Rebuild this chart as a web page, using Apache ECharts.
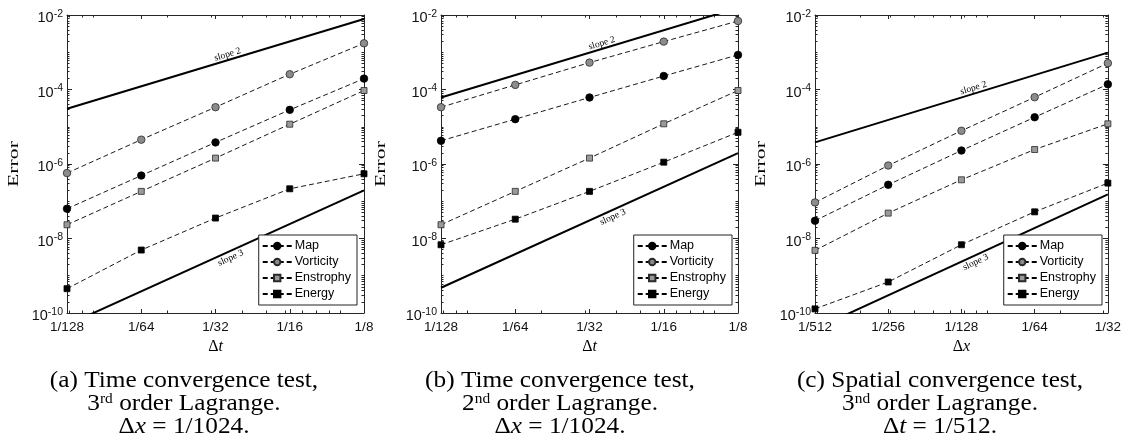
<!DOCTYPE html>
<html><head><meta charset="utf-8">
<script src="https://cdn.jsdelivr.net/npm/echarts@6/dist/echarts.min.js"></script>
<style>html,body{margin:0;padding:0;background:#fff}#c{width:1124px;height:448px}</style>
</head><body><div id="c"></div><script>
// ---------------- data ----------------
const seriesNames = ['Map', 'Vorticity', 'Enstrophy', 'Energy'];

const stepA = [1/128, 1/64, 1/32, 1/16, 1/8];
const mapA = [6.3e-8, 4.9e-7, 3.8e-6, 2.84e-5, 1.96e-4];
const vortA = [5.7e-7, 4.5e-6, 3.35e-5, 2.57e-4, 1.74e-3];
const ensA = [2.34e-8, 1.84e-7, 1.44e-6, 1.17e-5, 9.4e-5];
const energyA = [4.5e-10, 4.9e-9, 3.54e-8, 2.16e-7, 5.46e-7];
const slope2A = [3.05e-5, 7.8e-3];
const slope3A = [4.77e-11, 1.95e-7];

const stepB = [1/128, 1/64, 1/32, 1/16, 1/8];
const mapB = [4.2e-6, 1.6e-5, 6.1e-5, 2.3e-4, 8.5e-4];
const vortB = [3.35e-5, 1.33e-4, 5.27e-4, 1.93e-3, 6.9e-3];
const ensB = [2.34e-8, 1.84e-7, 1.44e-6, 1.2e-5, 9.4e-5];
const energyB = [6.8e-9, 3.3e-8, 1.84e-7, 1.12e-6, 7.1e-6];
const slope2B = [6.1e-5, 1.56e-2];
const slope3B = [4.77e-10, 1.95e-6];

const stepC = [1/512, 1/256, 1/128, 1/64, 1/32];
const mapC = [3.0e-8, 2.77e-7, 2.3e-6, 1.8e-5, 1.38e-4];
const vortC = [9.3e-8, 9.1e-7, 7.8e-6, 6.2e-5, 5.1e-4];
const ensC = [4.8e-9, 4.8e-8, 3.77e-7, 2.45e-6, 1.2e-5];
const energyC = [1.29e-10, 6.8e-10, 6.8e-9, 5.2e-8, 3.07e-7];
const slope2C = [3.8e-6, 9.77e-4];
const slope3C = [3.73e-11, 1.53e-7];

const yRange = [1e-10, 1e-2];
const xAxisNames = ['t', 't', 'x'];
const slopeLabels = ['slope 2', 'slope 3'];
const captionsA = ['(a) Time convergence test,', '3{sup|rd} order Lagrange.', 'Δ{it|x} = 1/1024.'];
const captionsB = ['(b) Time convergence test,', '2{sup|nd} order Lagrange.', 'Δ{it|x} = 1/1024.'];
const captionsC = ['(c) Spatial convergence test,', '3{sup|nd} order Lagrange.', 'Δ{it|t} = 1/512.'];

// ---------------- layout / style ----------------
const panels = [
  {x: stepA, vals: [mapA, vortA, ensA, energyA], s2: slope2A, s3: slope3A, cap: captionsA,
   grid: {left: 67, top: 15, width: 297, height: 298}, errX: 14, capX: 184, legRight: 767,
   s2x: 0.0355, s3x: 0.0351},
  {x: stepB, vals: [mapB, vortB, ensB, energyB], s2: slope2B, s3: slope3B, cap: captionsB,
   grid: {left: 441, top: 15, width: 297, height: 298}, errX: 381, capX: 560, legRight: 392,
   s2x: 0.0356, s3x: 0.0379},
  {x: stepC, vals: [mapC, vortC, ensC, energyC], s2: slope2C, s3: slope3C, cap: captionsC,
   grid: {left: 815, top: 15, width: 293, height: 298}, errX: 761, capX: 940, legRight: 22,
   s2x: 0.00889, s3x: 0.00872}
];

const AX = '#262626';
const SANS = 'Liberation Sans';
const SERIF = 'Liberation Serif';

const markerStyles = [
  {symbol: 'circle', symbolSize: 7.5, itemStyle: {color: '#000', borderColor: '#000', borderWidth: 0.8}},
  {symbol: 'circle', symbolSize: 7.5, itemStyle: {color: '#8c8c8c', borderColor: '#2a2a2a', borderWidth: 0.8}},
  {symbol: 'rect', symbolSize: 6, itemStyle: {color: '#9a9a9a', borderColor: '#2a2a2a', borderWidth: 0.8}},
  {symbol: 'rect', symbolSize: 6, itemStyle: {color: '#000', borderColor: '#000', borderWidth: 0.8}}
];

function decadeTicks(lo, hi, ks) {
  const out = [];
  for (let e = -12; e <= 1; e++) {
    for (const k of ks) {
      const v = k * Math.pow(10, e);
      if (v >= lo * 0.9999 && v <= hi * 1.0001) out.push(v);
    }
  }
  return out;
}

const xAxes = [], yAxes = [], series = [], legends = [];

panels.forEach((p, i) => {
  const xmin = p.x[0], xmax = p.x[p.x.length - 1];
  const xBase = {type: 'log', logBase: 2, gridIndex: i, min: xmin, max: xmax, interval: 1,
    splitLine: {show: false}};
  xAxes.push(Object.assign({}, xBase, {
    position: 'bottom',
    axisLine: {show: true, lineStyle: {color: AX, width: 1}},
    axisTick: {show: true, inside: true, length: 4, lineStyle: {color: AX}},
    axisLabel: {show: true, margin: 7, color: '#111', fontFamily: SANS, fontSize: 13.5,
      formatter: v => '1/' + Math.round(1 / v)},
    name: '{d|Δ}{i|' + xAxisNames[i] + '}', nameLocation: 'middle', nameGap: 20,
    nameTextStyle: {rich: {
      d: {fontFamily: SERIF, fontSize: 16, color: '#000'},
      i: {fontFamily: SERIF, fontSize: 16, fontStyle: 'italic', color: '#000'}}}
  }));
  xAxes.push(Object.assign({}, xBase, {
    position: 'bottom', axisLine: {show: false},
    axisTick: {show: true, inside: true, length: 2.5, lineStyle: {color: AX},
      customValues: decadeTicks(xmin, xmax, [1,2,3,4,5,6,7,8,9])},
    axisLabel: {show: false}
  }));
  xAxes.push(Object.assign({}, xBase, {
    position: 'top',
    axisLine: {show: true, lineStyle: {color: AX, width: 1}},
    axisTick: {show: true, inside: true, length: 4, lineStyle: {color: AX}},
    axisLabel: {show: false}
  }));
  xAxes.push(Object.assign({}, xBase, {
    position: 'top', axisLine: {show: false},
    axisTick: {show: true, inside: true, length: 2.5, lineStyle: {color: AX},
      customValues: decadeTicks(xmin, xmax, [1,2,3,4,5,6,7,8,9])},
    axisLabel: {show: false}
  }));

  const yBase = {type: 'log', logBase: 10, gridIndex: i, min: yRange[0], max: yRange[1], interval: 2,
    splitLine: {show: false}};
  yAxes.push(Object.assign({}, yBase, {
    position: 'left',
    axisLine: {show: true, lineStyle: {color: AX, width: 1}},
    axisTick: {show: true, inside: true, length: 5, lineStyle: {color: AX}},
    axisLabel: {show: true, margin: 4, padding: [6, 0, 0, 0],
      formatter: v => '{b|10}{s|' + Math.round(Math.log10(v)) + '}',
      rich: {
        b: {fontFamily: SANS, fontSize: 14.5, lineHeight: 19, color: '#111'},
        s: {fontFamily: SANS, fontSize: 10.5, lineHeight: 10, verticalAlign: 'top', color: '#111'}
      }}
  }));
  yAxes.push(Object.assign({}, yBase, {
    position: 'left', axisLine: {show: false},
    axisTick: {show: true, inside: true, length: 2.5, lineStyle: {color: AX},
      customValues: decadeTicks(yRange[0], yRange[1], [1,2,3,4,5,6,7,8,9])},
    axisLabel: {show: false}
  }));
  yAxes.push(Object.assign({}, yBase, {
    position: 'right',
    axisLine: {show: true, lineStyle: {color: AX, width: 1}},
    axisTick: {show: true, inside: true, length: 5, lineStyle: {color: AX}},
    axisLabel: {show: false}
  }));
  yAxes.push(Object.assign({}, yBase, {
    position: 'right', axisLine: {show: false},
    axisTick: {show: true, inside: true, length: 2.5, lineStyle: {color: AX},
      customValues: decadeTicks(yRange[0], yRange[1], [1,2,3,4,5,6,7,8,9])},
    axisLabel: {show: false}
  }));

  [p.s2, p.s3].forEach((s, j) => {
    series.push({
      type: 'line', name: slopeLabels[j], xAxisIndex: 4 * i, yAxisIndex: 4 * i,
      data: [[xmin, s[0]], [xmax, s[1]]], symbol: 'none', clip: true, silent: true,
      lineStyle: {color: '#000', width: 2}, z: 2
    });
  });

  seriesNames.forEach((nm, k) => {
    series.push(Object.assign({
      type: 'line', name: nm, xAxisIndex: 4 * i, yAxisIndex: 4 * i,
      data: p.x.map((xv, idx) => [xv, p.vals[k][idx]]),
      clip: true, silent: true, z: 3,
      lineStyle: {color: '#000', width: 0.9, type: [5, 3]}
    }, markerStyles[k]));
  });

  legends.push({
    data: seriesNames, orient: 'vertical', right: p.legRight, bottom: 143,
    backgroundColor: '#fff', borderColor: '#222', borderWidth: 1,
    padding: [4, 6, 4, 3], itemGap: 2, itemWidth: 29, itemHeight: 8,
    selectedMode: false,
    textStyle: {fontFamily: SANS, fontSize: 12.5, lineHeight: 14, color: '#000', padding: [0, 0, 0, -2]}
  });
});

const chart = echarts.init(document.getElementById('c'), null, {renderer: 'canvas'});
chart.setOption({
  animation: false,
  backgroundColor: '#fff',
  grid: panels.map(p => Object.assign({containLabel: false}, p.grid)),
  xAxis: xAxes, yAxis: yAxes, series: series, legend: legends
});

// ---------------- annotations ----------------
const elements = [];
panels.forEach((p, i) => {
  const xmin = p.x[0], xmax = p.x[p.x.length - 1];
  [[p.s2, p.s2x, 5.5, slopeLabels[0]], [p.s3, p.s3x, -6.5, slopeLabels[1]]].forEach(([s, lx, off, txt]) => {
    const a = chart.convertToPixel({gridIndex: i}, [xmin, s[0]]);
    const b = chart.convertToPixel({gridIndex: i}, [xmax, s[1]]);
    const px = chart.convertToPixel({gridIndex: i}, [lx, s[0]])[0];
    const t = (px - a[0]) / (b[0] - a[0]);
    const py = a[1] + t * (b[1] - a[1]);
    const dx = b[0] - a[0], dy = b[1] - a[1], len = Math.hypot(dx, dy);
    const nx = dy / len, ny = -dx / len;
    elements.push({
      type: 'text', x: px + nx * off, y: py + ny * off, rotation: Math.atan2(-dy, dx), z: 10,
      style: {text: txt, font: '9.5px "' + SERIF + '"', fill: '#000', align: 'center', verticalAlign: 'middle'}
    });
  });
  elements.push({
    type: 'text', x: p.errX, y: 164, rotation: Math.PI / 2, scaleX: 1.55, z: 10,
    style: {text: 'Error', font: '14px "' + SERIF + '"', fill: '#000', align: 'center', verticalAlign: 'middle'}
  });
  p.cap.forEach((line, li) => {
    elements.push({
      type: 'text', x: p.capX, y: 381 + li * 23, scaleX: 1.1, z: 10,
      style: {text: line, fontFamily: SERIF, fontSize: 23, fill: '#000', align: 'center', verticalAlign: 'middle',
        rich: {
          sup: {fontFamily: SERIF, fontSize: 14, lineHeight: 12, verticalAlign: 'top', fill: '#000'},
          it: {fontFamily: SERIF, fontSize: 23, fontStyle: 'italic', fill: '#000'}
        }}
    });
  });
});
chart.setOption({graphic: {elements: elements}});
</script></body></html>
